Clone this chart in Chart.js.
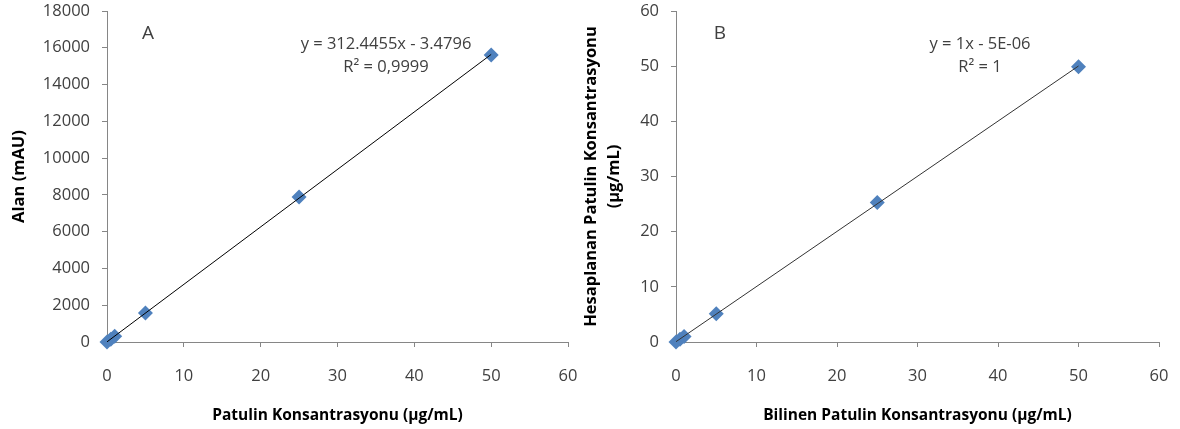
<!DOCTYPE html>
<html><head><meta charset="utf-8">
<script src="https://cdn.jsdelivr.net/npm/chart.js@4.4.1/dist/chart.umd.min.js"></script>
<style>
html,body{margin:0;padding:0;background:#fff;}
#wrap{position:relative;width:1180px;height:429px;overflow:hidden;}
.c{position:absolute;top:0;height:429px;}
</style></head><body>
<div id="wrap">
<div class="c" style="left:0;width:590px"><canvas id="a"></canvas></div>
<div class="c" style="left:570px;width:610px"><canvas id="b"></canvas></div>
</div>
<script>
// Data
const concA = [0, 0.5, 1, 5, 25, 50];
const areaA = [0, 152, 310, 1575, 7880, 15610];
const concB = [0, 0.5, 1, 5, 25, 50];
const calcB = [0, 0.5, 1.0, 5.1, 25.3, 49.9];
const xTicks = [0, 10, 20, 30, 40, 50, 60];
const yTicksA = [0, 2000, 4000, 6000, 8000, 10000, 12000, 14000, 16000, 18000];
const yTicksB = [0, 10, 20, 30, 40, 50, 60];
const eqA = ["y = 312.4455x - 3.4796", "R\u00B2 = 0,9999"];
const eqB = ["y = 1x - 5E-06", "R\u00B2 = 1"];

const FONT = "'Open Sans', 'Noto Sans', sans-serif";
const AX = '#868686';
const TXT = '#404040';

function fit(xs, ys){
  const n = xs.length; let sx=0, sy=0, sxx=0, sxy=0;
  for(let i=0;i<n;i++){sx+=xs[i];sy+=ys[i];sxx+=xs[i]*xs[i];sxy+=xs[i]*ys[i];}
  const m=(n*sxy-sx*sy)/(n*sxx-sx*sx); const b=(sy-m*sx)/n;
  const x0=Math.min(...xs), x1=Math.max(...xs);
  return [{x:x0,y:m*x0+b},{x:x1,y:m*x1+b}];
}

function makeChart(id, xs, ys, yTicks, yMax, yTitle, yWidth, yTitlePad, rightPad, xTitle, letter, letterX, eq, eqX, lineCol){
  const textPlugin = {
    id:'txt',
    afterDraw(chart){
      const ctx = chart.ctx; ctx.save();
      ctx.fillStyle = TXT; ctx.textBaseline='middle'; ctx.textAlign='center';
      ctx.font = "19px " + FONT;
      ctx.fillText(letter, letterX, 34);
      ctx.font = "16.5px " + FONT;
      ctx.fillText(eq[0], eqX, 44);
      ctx.fillText(eq[1], eqX, 67);
      ctx.restore();
    }
  };
  return new Chart(document.getElementById(id), {
    type:'scatter',
    data:{datasets:[
      {data: xs.map((x,i)=>({x, y: ys[i]})), pointStyle:'rectRot', pointRadius:7.5, pointHoverRadius:7.5,
       backgroundColor:'#4f81bd', borderColor:'#4f81bd', borderWidth:0, showLine:false, order:2, clip:false},
      {data: fit(xs, ys), type:'line', showLine:true, borderColor:lineCol, borderWidth:1, pointRadius:0, fill:false, order:1}
    ]},
    options:{
      responsive:true, maintainAspectRatio:false, animation:false,
      layout:{padding:{top:11, right:rightPad, left:0, bottom:0}},
      plugins:{legend:{display:false}, tooltip:{enabled:false}},
      scales:{
        x:{type:'linear', min:0, max:60,
          afterBuildTicks(s){ s.ticks = xTicks.map(v=>({value:v})); },
          afterFit(s){ s.height = 87; s.paddingRight = 0; s.paddingLeft = 0; },
          grid:{display:true, drawOnChartArea:false, drawTicks:true, tickLength:5, color:AX},
          border:{display:true, color:AX, width:1},
          ticks:{color:TXT, font:{family:FONT, size:16.5}, padding:19, maxRotation:0, callback:v=>String(v)},
          title:{display:true, text:xTitle, color:'#000', font:{family:FONT, size:15.5, weight:'bold'}, padding:{top:9}}
        },
        y:{type:'linear', min:0, max:yMax,
          afterBuildTicks(s){ s.ticks = yTicks.map(v=>({value:v})); },
          afterFit(s){ s.width = yWidth; s.paddingTop = 0; s.paddingBottom = 0; },
          grid:{display:true, drawOnChartArea:false, drawTicks:true, tickLength:5, color:AX},
          border:{display:true, color:AX, width:1},
          ticks:{color:TXT, font:{family:FONT, size:16.5}, padding:12, callback:v=>String(v)},
          title:{display:true, text:yTitle, color:'#000', font:{family:FONT, size:16.5, weight:'bold', lineHeight:1.4}, padding:{top:yTitlePad,bottom:0}}
        }
      }
    },
    plugins:[textPlugin]
  });
}

makeChart('a', concA, areaA, yTicksA, 18000, 'Alan (mAU)', 107, 8, 22,
  'Patulin Konsantrasyonu (\u00B5g/mL)', 'A', 148, eqA, 386, '#000');
makeChart('b', concB, calcB, yTicksB, 60, ['Hesaplanan Patulin Konsantrasyonu','(\u00B5g/mL)'], 106, 10, 21,
  'Bilinen Patulin Konsantrasyonu (\u00B5g/mL)', 'B', 150, eqB, 410, '#333');
</script>
</body></html>
